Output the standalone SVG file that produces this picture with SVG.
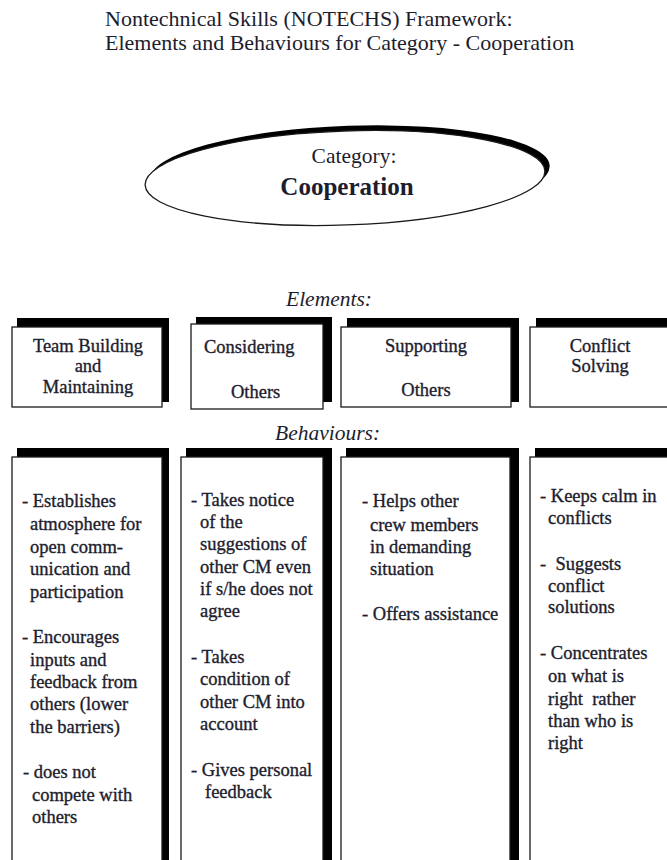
<svg xmlns="http://www.w3.org/2000/svg" width="667" height="860" viewBox="0 0 667 860">
  <style>
    .t { font-family: "Liberation Serif", "Times New Roman", serif; fill: #1d1d2e; }
    .title { font-size: 22px; }
    .box { font-size: 18.5px; stroke: #1d1d2e; stroke-width: 0.35px; }
    .hdr { font-size: 21.5px; font-style: italic; }
    .shadow { fill: #000; }
    .face { fill: #fff; stroke: #1a1a1a; stroke-width: 1.3; }
    .mid { text-anchor: middle; }
  </style>

  <rect width="667" height="860" fill="#fff"/>

  <!-- heading -->
  <g id="title">
    <text class="t title" x="105" y="26">Nontechnical Skills (NOTECHS) Framework:</text>
    <text class="t title" x="105" y="50">Elements and Behaviours for Category - Cooperation</text>
  </g>

  <!-- category oval with offset shadow -->
  <g id="category">
    <g transform="rotate(-2 345 178)">
      <ellipse class="shadow" cx="350" cy="173" rx="200" ry="47"/>
      <ellipse cx="345" cy="178" rx="200" ry="47" fill="#fff" stroke="#1a1a1a" stroke-width="1.3"/>
    </g>
    <text class="t mid" x="354" y="163" font-size="21.5">Category:</text>
    <text class="t mid" x="347" y="195" font-size="25px" font-weight="bold">Cooperation</text>
  </g>

  <text class="t hdr mid" x="329" y="306">Elements:</text>

  <!-- element boxes -->
  <g id="el-team-building">
    <rect class="shadow" x="17" y="318" width="152" height="84"/>
    <rect class="face" x="12" y="327" width="150" height="80"/>
    <text class="t box mid" x="88" y="352">Team Building</text>
    <text class="t box mid" x="88" y="372">and</text>
    <text class="t box mid" x="88" y="393">Maintaining</text>
  </g>
  <g id="el-considering-others">
    <rect class="shadow" x="196" y="317" width="136" height="85"/>
    <rect class="face" x="191" y="324" width="132" height="85"/>
    <text class="t box" x="204" y="353">Considering</text>
    <text class="t box" x="231" y="398">Others</text>
  </g>
  <g id="el-supporting-others">
    <rect class="shadow" x="347" y="318" width="172" height="84"/>
    <rect class="face" x="341" y="327" width="170" height="80"/>
    <text class="t box mid" x="426" y="352">Supporting</text>
    <text class="t box mid" x="426" y="396">Others</text>
  </g>
  <g id="el-conflict-solving">
    <rect class="shadow" x="536" y="318" width="140" height="84"/>
    <rect class="face" x="530" y="327" width="145" height="80"/>
    <text class="t box mid" x="600" y="352">Conflict</text>
    <text class="t box mid" x="600" y="372">Solving</text>
  </g>

  <text class="t hdr" x="275" y="440">Behaviours:</text>

  <!-- behaviour columns -->
  <g id="bh-team-building">
    <rect class="shadow" x="17" y="448" width="152" height="420"/>
    <rect class="face" x="12" y="457" width="150" height="410"/>
    <text class="t box">
      <tspan x="22" y="507">- Establishes</tspan>
      <tspan x="30" y="530">atmosphere for</tspan>
      <tspan x="30" y="553">open comm-</tspan>
      <tspan x="30" y="575">unication and</tspan>
      <tspan x="30" y="598">participation</tspan>
      <tspan x="22" y="643">- Encourages</tspan>
      <tspan x="30" y="666">inputs and</tspan>
      <tspan x="30" y="688">feedback from</tspan>
      <tspan x="30" y="710">others (lower</tspan>
      <tspan x="30" y="733">the barriers)</tspan>
      <tspan x="23" y="778">- does not</tspan>
      <tspan x="32" y="801">compete with</tspan>
      <tspan x="32" y="823">others</tspan>
    </text>
  </g>
  <g id="bh-considering-others">
    <rect class="shadow" x="186" y="448" width="146" height="420"/>
    <rect class="face" x="181" y="457" width="142" height="410"/>
    <text class="t box">
      <tspan x="191" y="506">- Takes notice</tspan>
      <tspan x="200" y="528">of  the</tspan>
      <tspan x="200" y="550">suggestions   of</tspan>
      <tspan x="200" y="573">other CM even</tspan>
      <tspan x="200" y="595">if s/he does not</tspan>
      <tspan x="200" y="617">agree</tspan>
      <tspan x="191" y="663">- Takes</tspan>
      <tspan x="200" y="685">condition  of</tspan>
      <tspan x="200" y="708">other CM into</tspan>
      <tspan x="200" y="730">account</tspan>
      <tspan x="191" y="776">- Gives personal</tspan>
      <tspan x="205" y="798">feedback</tspan>
    </text>
  </g>
  <g id="bh-supporting-others">
    <rect class="shadow" x="346" y="448" width="173" height="420"/>
    <rect class="face" x="341" y="457" width="169" height="410"/>
    <text class="t box">
      <tspan x="362" y="507">- Helps other</tspan>
      <tspan x="370" y="531">crew members</tspan>
      <tspan x="370" y="553">in demanding</tspan>
      <tspan x="370" y="575">situation</tspan>
      <tspan x="362" y="620">- Offers assistance</tspan>
    </text>
  </g>
  <g id="bh-conflict-solving">
    <rect class="shadow" x="535" y="448" width="140" height="420"/>
    <rect class="face" x="530" y="457" width="145" height="410"/>
    <text class="t box">
      <tspan x="540" y="502">- Keeps calm in</tspan>
      <tspan x="548" y="524">conflicts</tspan>
      <tspan x="540" y="570" xml:space="preserve">-  Suggests</tspan>
      <tspan x="548" y="592">conflict</tspan>
      <tspan x="548" y="613">solutions</tspan>
      <tspan x="540" y="659">- Concentrates</tspan>
      <tspan x="548" y="682">on what is</tspan>
      <tspan x="548" y="705" xml:space="preserve">right  rather</tspan>
      <tspan x="548" y="727">than who is</tspan>
      <tspan x="548" y="749">right</tspan>
    </text>
  </g>
</svg>
